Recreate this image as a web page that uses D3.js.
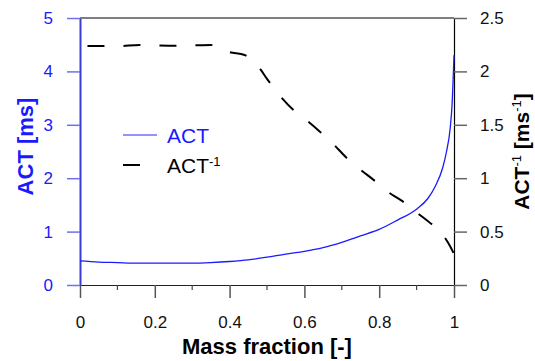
<!DOCTYPE html>
<html>
<head>
<meta charset="utf-8">
<script src="https://cdn.jsdelivr.net/npm/d3@7"></script>
<style>
  html, body { margin: 0; padding: 0; background: #fff; }
  svg { display: block; font-family: "Liberation Sans", Arial, sans-serif; }
</style>
</head>
<body>
<div id="chart"></div>
<script>
// --- data ---
const actX = [0, 0.05, 0.1, 0.15, 0.2, 0.25, 0.3, 0.35, 0.4, 0.45, 0.5, 0.55, 0.6, 0.65, 0.7, 0.75, 0.8, 0.85, 0.9, 0.93, 0.95, 0.97, 0.98, 0.99, 0.995, 1.0];
const actY = [0.45, 0.43, 0.42, 0.41, 0.41, 0.41, 0.41, 0.42, 0.44, 0.47, 0.52, 0.58, 0.63, 0.70, 0.80, 0.92, 1.04, 1.22, 1.42, 1.62, 1.85, 2.2, 2.5, 2.95, 3.4, 4.3];

const invX = [0.02, 0.06, 0.1, 0.16, 0.2, 0.26, 0.3, 0.35, 0.4, 0.44, 0.48, 0.5, 0.54, 0.57, 0.61, 0.64, 0.68, 0.71, 0.75, 0.79, 0.82, 0.86, 0.9, 0.94, 0.97, 0.99, 1.0];
const invY = [2.238, 2.238, 2.236, 2.247, 2.243, 2.24, 2.243, 2.247, 2.18, 2.154, 2.03, 1.93, 1.75, 1.64, 1.53, 1.44, 1.31, 1.20, 1.08, 0.97, 0.88, 0.79, 0.68, 0.57, 0.47, 0.36, 0.29];

const xTicks = [0, 0.2, 0.4, 0.6, 0.8, 1];
const xMinorTicks = [0.1, 0.3, 0.5, 0.7, 0.9];
const leftTicks = [0, 1, 2, 3, 4, 5];
const rightTicks = [0, 0.5, 1, 1.5, 2, 2.5];

// --- layout ---
const W = 535, H = 361;
const plot = {left: 80, right: 454, top: 18, bottom: 285};
const blue = "#1a1aff";

const svg = d3.select("#chart").append("svg").attr("width", W).attr("height", H);

const x = d3.scaleLinear().domain([0, 1]).range([plot.left, plot.right]);
const yL = d3.scaleLinear().domain([0, 5]).range([plot.bottom, plot.top]);
const yR = d3.scaleLinear().domain([0, 2.5]).range([plot.bottom, plot.top]);

// top frame line
svg.append("line")
    .attr("x1", plot.left).attr("x2", plot.right)
    .attr("y1", plot.top).attr("y2", plot.top)
    .attr("stroke", "#000").attr("stroke-width", 1.2);

// x axis
const gx = svg.append("g")
    .attr("transform", `translate(0,${plot.bottom})`)
    .call(d3.axisBottom(x).tickValues(xTicks).tickFormat(d3.format("")).tickSize(13).tickSizeOuter(0).tickPadding(18));
gx.select(".domain").attr("stroke", "#222").attr("stroke-width", 1.2);
gx.selectAll(".tick line").attr("stroke", "#555").attr("stroke-width", 1.5);
gx.selectAll(".tick text").attr("font-size", 17).attr("fill", "#111").attr("font-family", "Liberation Sans, Arial, sans-serif");
gx.selectAll(".minor").data(xMinorTicks).enter().append("line")
    .attr("class", "minor")
    .attr("x1", d => x(d)).attr("x2", d => x(d))
    .attr("y1", 0).attr("y2", 5)
    .attr("stroke", "#444").attr("stroke-width", 1.2);

// left axis (ACT)
const gl = svg.append("g")
    .attr("transform", `translate(${plot.left},0)`)
    .call(d3.axisLeft(yL).tickValues(leftTicks).tickFormat(d3.format("")).tickSize(13).tickSizeOuter(0).tickPadding(14));
gl.select(".domain").attr("stroke", "#3b3bd6").attr("stroke-width", 2);
gl.selectAll(".tick line").attr("stroke", "#6f6ff2").attr("stroke-width", 1.5);
gl.selectAll(".tick text").attr("font-size", 17).attr("fill", blue).attr("font-family", "Liberation Sans, Arial, sans-serif");

// right axis (ACT^-1)
const gr = svg.append("g")
    .attr("transform", `translate(${plot.right},0)`)
    .call(d3.axisRight(yR).tickValues(rightTicks).tickFormat(d3.format("")).tickSize(13).tickSizeOuter(0).tickPadding(13));
gr.select(".domain").attr("stroke", "#000").attr("stroke-width", 1.2);
gr.selectAll(".tick line").attr("stroke", "#666").attr("stroke-width", 1.5);
gr.selectAll(".tick text").attr("font-size", 17).attr("fill", "#111").attr("font-family", "Liberation Sans, Arial, sans-serif");

// curves
const actData = actX.map((d, i) => [d, actY[i]]);
const invData = invX.map((d, i) => [d, invY[i]]);

svg.append("path")
    .datum(invData)
    .attr("fill", "none")
    .attr("stroke", "#000")
    .attr("stroke-width", 2)
    .attr("stroke-dasharray", "17,19")
    .attr("d", d3.line().x(d => x(d[0])).y(d => yR(d[1])).curve(d3.curveMonotoneX));

svg.append("path")
    .datum(actData)
    .attr("fill", "none")
    .attr("stroke", blue)
    .attr("stroke-width", 1.3)
    .attr("d", d3.line().x(d => x(d[0])).y(d => yL(d[1])).curve(d3.curveMonotoneX));

// legend
svg.append("line").attr("x1", 123).attr("x2", 157).attr("y1", 135).attr("y2", 135)
    .attr("stroke", "#6f6fff").attr("stroke-width", 1.3);
svg.append("text").attr("x", 167).attr("y", 143).attr("font-size", 21).attr("fill", blue).text("ACT");
svg.append("line").attr("x1", 123).attr("x2", 140).attr("y1", 165).attr("y2", 165)
    .attr("stroke", "#000").attr("stroke-width", 2);
const leg2 = svg.append("text").attr("x", 167).attr("y", 173).attr("font-size", 21).attr("fill", "#000");
leg2.append("tspan").text("ACT");
leg2.append("tspan").attr("font-size", 13).attr("dy", -7).text("-1");

// axis titles
svg.append("text")
    .attr("x", (plot.left + plot.right) / 2).attr("y", 354)
    .attr("text-anchor", "middle").attr("font-size", 22).attr("font-weight", "bold").attr("fill", "#000")
    .text("Mass fraction [-]");

svg.append("text")
    .attr("transform", `translate(33,${(plot.top + plot.bottom) / 2 - 5}) rotate(-90)`)
    .attr("text-anchor", "middle").attr("font-size", 22).attr("font-weight", "bold").attr("fill", blue)
    .text("ACT [ms]");

const rt = svg.append("text")
    .attr("transform", `translate(529,${(plot.top + plot.bottom) / 2}) rotate(-90)`)
    .attr("text-anchor", "middle").attr("font-size", 21).attr("font-weight", "bold").attr("fill", "#000");
rt.append("tspan").text("ACT");
rt.append("tspan").attr("font-size", 13).attr("font-weight", "normal").attr("dy", -8).text("-1");
rt.append("tspan").attr("dy", 8).text(" [ms");
rt.append("tspan").attr("font-size", 13).attr("font-weight", "normal").attr("dy", -8).text("-1");
rt.append("tspan").attr("dy", 8).text("]");
</script>
</body>
</html>
